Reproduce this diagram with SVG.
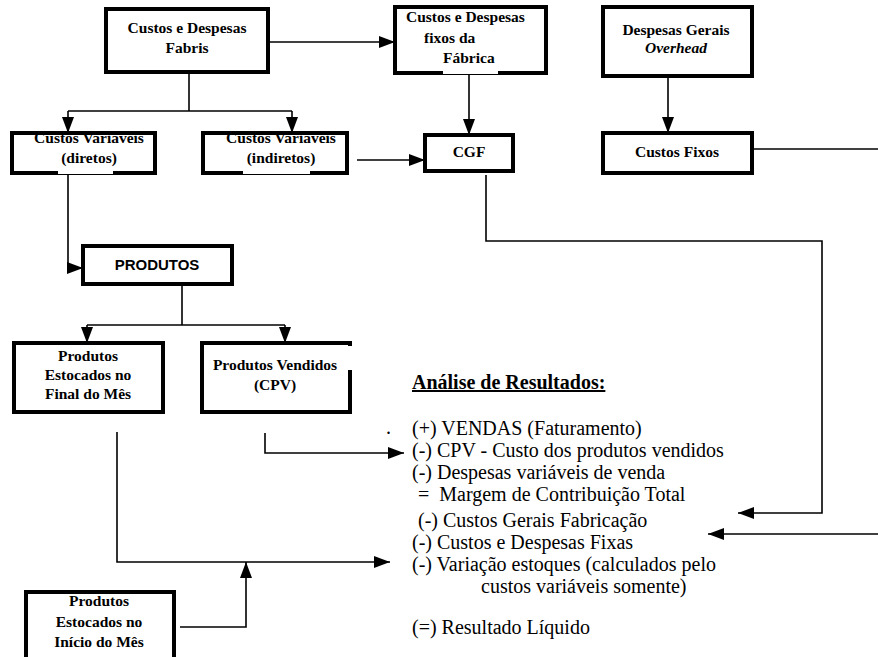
<svg xmlns="http://www.w3.org/2000/svg" width="878" height="657" viewBox="0 0 878 657">
  <style>
    .box { fill: #fff; stroke: #000; stroke-width: 4; }
    .lbl { font-family: 'Liberation Serif', 'Times New Roman', Tinos, serif; font-size: 15.5px; font-weight: bold; fill: #000; }
    .sans { font-family: 'Liberation Sans', Arial, sans-serif; font-size: 15px; font-weight: bold; fill: #000; }
    .c { text-anchor: middle; }
    .line { fill: none; stroke: #000; stroke-width: 1.6; }
    .res { font-family: 'Liberation Serif', 'Times New Roman', Tinos, serif; font-size: 20px; fill: #000; }
    .gap { fill: #fff; }
  </style>
  <defs>
    <marker id="arrow" viewBox="0 0 16 12" refX="16" refY="6" markerWidth="16" markerHeight="12" markerUnits="userSpaceOnUse" orient="auto">
      <path d="M0,0 L16,6 L0,12 Z" fill="#000"/>
    </marker>
  </defs>

  <!-- connectors -->
  <g id="connectors">
    <path class="line" d="M268,42 H395" marker-end="url(#arrow)"/>
    <path class="line" d="M189,72 V111"/>
    <path class="line" d="M68,111 H292"/>
    <path class="line" d="M68,111 V133" marker-end="url(#arrow)"/>
    <path class="line" d="M292,111 V133" marker-end="url(#arrow)"/>
    <path class="line" d="M469,73 V135" marker-end="url(#arrow)"/>
    <path class="line" d="M668,76 V133" marker-end="url(#arrow)"/>
    <path class="line" d="M357,160 H425" marker-end="url(#arrow)"/>
    <path class="line" d="M752,149 H878"/>
    <path class="line" d="M486,175 V241 H822 V513 H738" marker-end="url(#arrow)"/>
    <path class="line" d="M68,173 V268 H83" marker-end="url(#arrow)"/>
    <path class="line" d="M182,284 V325"/>
    <path class="line" d="M87,325 H285"/>
    <path class="line" d="M87,325 V343" marker-end="url(#arrow)"/>
    <path class="line" d="M285,325 V343" marker-end="url(#arrow)"/>
    <path class="line" d="M117,432 V562 H390" marker-end="url(#arrow)"/>
    <path class="line" d="M180,627 H246 V562" marker-end="url(#arrow)"/>
    <path class="line" d="M265,433 V453 H404" marker-end="url(#arrow)"/>
    <path class="line" d="M878,534 H708" marker-end="url(#arrow)"/>
  </g>

  <g id="custos-despesas-fabris">
    <rect class="box" x="106" y="9" width="162" height="63"/>
    <text class="lbl c" x="187" y="33">Custos e Despesas</text>
    <text class="lbl c" x="187" y="53">Fabris</text>
  </g>

  <g id="custos-despesas-fixos">
    <rect class="box" x="395" y="7" width="151" height="66"/>
    <rect class="gap" x="443" y="71" width="55" height="3"/>
    <text class="lbl" x="406" y="22">Custos e Despesas</text>
    <text class="lbl" x="424" y="43">fixos da</text>
    <text class="lbl" x="443" y="63">Fábrica</text>
  </g>

  <g id="despesas-gerais">
    <rect class="box" x="603" y="7" width="149" height="69"/>
    <text class="lbl c" x="676" y="35">Despesas Gerais</text>
    <text class="lbl c" x="676" y="53" font-style="italic">Overhead</text>
  </g>

  <g id="custos-variaveis-diretos">
    <rect class="box" x="12" y="133" width="143" height="40"/>
    <rect class="gap" x="58" y="171" width="55" height="3"/>
    <text class="lbl c" x="89" y="143">Custos Variáveis</text>
    <text class="lbl c" x="89" y="163">(diretos)</text>
  </g>

  <g id="custos-variaveis-indiretos">
    <rect class="box" x="203" y="133" width="144" height="40"/>
    <rect class="gap" x="243" y="171" width="67" height="3"/>
    <text class="lbl c" x="281" y="143">Custos Variáveis</text>
    <text class="lbl c" x="281" y="163">(indiretos)</text>
  </g>

  <g id="cgf">
    <rect class="box" x="425" y="135" width="88" height="36"/>
    <text class="lbl c" x="469" y="157">CGF</text>
  </g>

  <g id="custos-fixos">
    <rect class="box" x="603" y="133" width="149" height="40"/>
    <text class="lbl c" x="677" y="157">Custos Fixos</text>
  </g>

  <g id="produtos">
    <rect class="box" x="83" y="246" width="149" height="38"/>
    <text class="sans c" x="157" y="270">PRODUTOS</text>
  </g>

  <g id="produtos-estocados-final">
    <rect class="box" x="14" y="343" width="149" height="69"/>
    <text class="lbl c" x="88" y="361">Produtos</text>
    <text class="lbl c" x="88" y="380">Estocados no</text>
    <text class="lbl c" x="88" y="399">Final do Mês</text>
  </g>

  <g id="produtos-vendidos">
    <rect class="box" x="202" y="343" width="148" height="69"/>
    <rect class="gap" x="348" y="346" width="4" height="24"/>
    <text class="lbl c" x="275" y="370">Produtos Vendidos</text>
    <text class="lbl c" x="275" y="390">(CPV)</text>
  </g>

  <g id="produtos-estocados-inicio">
    <rect class="box" x="26" y="592" width="148" height="70"/>
    <text class="lbl c" x="99" y="606">Produtos</text>
    <text class="lbl c" x="99" y="627">Estocados no</text>
    <text class="lbl c" x="99" y="647">Início do Mês</text>
  </g>

  <!-- income statement -->
  <g id="analise-resultados">
    <text class="res" x="412" y="389" font-weight="bold" text-decoration="underline">Análise de Resultados:</text>
    <text class="res" x="386" y="434">.</text>
    <text class="res" x="412" y="435">(+) VENDAS (Faturamento)</text>
    <text class="res" x="412" y="457">(-) CPV - Custo dos produtos vendidos</text>
    <text class="res" x="412" y="479">(-) Despesas variáveis de venda</text>
    <text class="res" x="413" y="501" xml:space="preserve"> =  Margem de Contribuição Total</text>
    <text class="res" x="418" y="527">(-) Custos Gerais Fabricação</text>
    <text class="res" x="412" y="549">(-) Custos e Despesas Fixas</text>
    <text class="res" x="412" y="571">(-) Variação estoques (calculados pelo</text>
    <text class="res" x="481" y="593">custos variáveis somente)</text>
    <text class="res" x="412" y="634">(=) Resultado Líquido</text>
  </g>
</svg>
